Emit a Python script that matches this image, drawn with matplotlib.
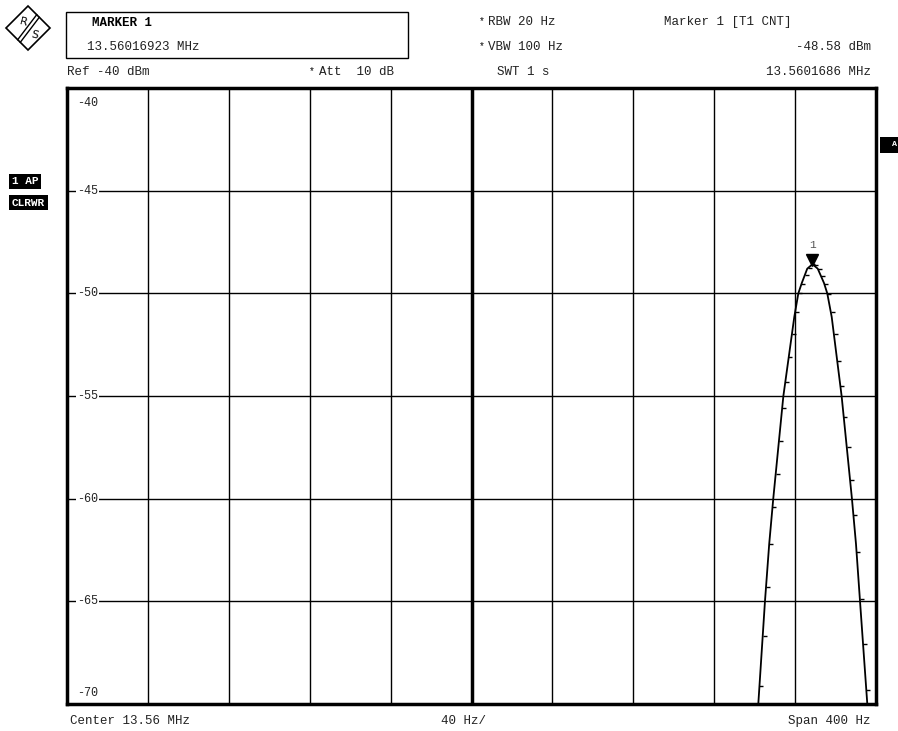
import matplotlib.pyplot as plt
import matplotlib.patches as patches
import numpy as np

# Trace 1 (offset from center 13.56 MHz, Hz) and level (dBm); off-scale parts sit on -70
trace_freq = [-200, 141.8, 145.1, 147.2, 149.2, 154.2, 159.6, 161.6, 163.3, 166.0, 168.6,
              171.2, 174.3, 175.9, 178.1, 183.0, 188.1, 190.1, 192.1, 195.7, 200]
trace_level = [-70, -70, -65, -62.2, -60, -55, -51.15, -50, -49.5, -48.8, -48.58,
               -48.8, -49.5, -50, -51.15, -55, -60, -62.2, -65, -70, -70]

# sampled points of the trace drawn as small ticks
tick_freq = [142.4, 144.0, 145.6, 147.2, 148.8, 150.4, 152.0, 153.6, 155.2, 156.8, 158.4,
             160.0, 161.6, 163.2, 164.8, 166.4, 168.0, 169.6, 171.2, 172.8, 174.4, 176.0,
             177.6, 179.2, 180.8, 182.4, 184.0, 185.6, 187.2, 188.8, 190.4, 192.0, 193.6, 195.2]
tick_level = [-69.1, -66.7, -64.3, -62.2, -60.4, -58.8, -57.2, -55.6, -54.3, -53.1, -52.0,
              -50.9, -50.0, -49.53, -49.11, -48.75, -48.59, -48.62, -48.8, -49.16, -49.53, -50.05,
              -50.9, -52.0, -53.3, -54.5, -56.0, -57.5, -59.1, -60.8, -62.6, -64.9, -67.1, -69.3]

marker_freq = 168.6
marker_level = -48.58

y_levels = [-40, -45, -50, -55, -60, -65, -70]
x_grid = list(range(-200, 201, 40))

W, H = 898, 731
MONO = 'Liberation Mono'
TXT = '#222222'
FS = 9


def fx(x):
    return x / W


def fy(y):
    return 1 - y / H


fig = plt.figure(figsize=(W / 100, H / 100), dpi=100)
ax = fig.add_axes([fx(67), fy(704), 809 / W, 616 / H])

ax.set_xlim(-200, 200)
ax.set_ylim(-70, -40)
ax.set_xticks(x_grid)
ax.set_yticks(y_levels)
ax.grid(True, color='black', linewidth=1.0)
ax.tick_params(length=0, labelbottom=False, labelleft=False)
for s in ax.spines.values():
    s.set_linewidth(2.5)
ax.axvline(0, color='black', linewidth=2.5)

# trace
ax.plot(trace_freq, trace_level, color='black', linewidth=1.3, zorder=4)
ax.plot(np.array(tick_freq) + 0.9, tick_level, linestyle='none', marker='_',
        markersize=3.5, markeredgewidth=1.0, color='black', zorder=4)

# marker 1
ax.plot(marker_freq, marker_level + 0.2, marker='v', markersize=8, color='black',
        zorder=5, clip_on=False)
ax.text(marker_freq, marker_level + 0.95, '1', ha='center', va='center',
        fontsize=8, color='#555555', family=MONO)

# level labels inside the grid
for lv in y_levels:
    if lv == -40:
        y = lv - 0.73
        bb = None
    elif lv == -70:
        y = lv + 0.54
        bb = None
    else:
        y = lv
        bb = dict(facecolor='white', edgecolor='none', pad=0.6)
    ax.text(-195.2, y, str(lv), ha='left', va='center', fontsize=8.5,
            family=MONO, color=TXT, bbox=bb, zorder=3)

# header box
fig.patches.append(patches.Rectangle((fx(65.5), fy(58)), 342 / W, 45.5 / H,
                                     transform=fig.transFigure, fill=False,
                                     edgecolor='black', linewidth=1.0))
fig.text(fx(92), fy(23), 'MARKER 1', fontsize=FS, family=MONO, weight='bold',
         color='black', va='center')
fig.text(fx(87), fy(47), '13.56016923 MHz', fontsize=FS, family=MONO,
         color=TXT, va='center')

fig.text(fx(67), fy(72), 'Ref -40 dBm', fontsize=FS, family=MONO, color=TXT, va='center')
fig.text(fx(309), fy(71), '*', fontsize=7, family=MONO, color='black', va='center')
fig.text(fx(319), fy(72), 'Att  10 dB', fontsize=FS, family=MONO, color=TXT, va='center')

fig.text(fx(479), fy(21), '*', fontsize=7, family=MONO, color='black', va='center')
fig.text(fx(488), fy(22), 'RBW 20 Hz', fontsize=FS, family=MONO, color=TXT, va='center')
fig.text(fx(479), fy(46), '*', fontsize=7, family=MONO, color='black', va='center')
fig.text(fx(488), fy(47), 'VBW 100 Hz', fontsize=FS, family=MONO, color=TXT, va='center')
fig.text(fx(497), fy(72), 'SWT 1 s', fontsize=FS, family=MONO, color=TXT, va='center')

fig.text(fx(664), fy(22), 'Marker 1 [T1 CNT]', fontsize=FS, family=MONO, color=TXT, va='center')
fig.text(fx(871), fy(47), '-48.58 dBm', fontsize=FS, family=MONO, color=TXT,
         va='center', ha='right')
fig.text(fx(871), fy(72), '13.5601686 MHz', fontsize=FS, family=MONO, color=TXT,
         va='center', ha='right')

# footer
fig.text(fx(70), fy(721), 'Center 13.56 MHz', fontsize=FS, family=MONO, color=TXT, va='center')
fig.text(fx(441), fy(721), '40 Hz/', fontsize=FS, family=MONO, color=TXT, va='center')
fig.text(fx(870), fy(721), 'Span 400 Hz', fontsize=FS, family=MONO, color=TXT,
         va='center', ha='right')

# trace labels on the left
fig.text(fx(12), fy(181.5), '1 AP', fontsize=8, family=MONO, weight='bold', color='white',
         va='center', bbox=dict(facecolor='black', edgecolor='none', pad=1.8))
fig.text(fx(12), fy(202.5), 'CLRWR', fontsize=8, family=MONO, weight='bold', color='white',
         va='center', bbox=dict(facecolor='black', edgecolor='none', pad=1.8))

# cut-off label on the right edge
fig.patches.append(patches.Rectangle((fx(880), fy(153)), 20 / W, 16 / H,
                                     transform=fig.transFigure, facecolor='black',
                                     edgecolor='none'))
fig.text(fx(892), fy(145), 'A', fontsize=6, family=MONO, weight='bold', color='white',
         va='center')

# R&S logo
diamond = [(6, 28), (28, 6), (50, 28), (28, 50)]
fig.patches.append(patches.Polygon([(fx(x), fy(y)) for x, y in diamond], closed=True,
                                   transform=fig.transFigure, fill=False,
                                   edgecolor='black', linewidth=1.2))
for d in (-1.3, 1.3):
    fig.lines.append(plt.Line2D([fx(19 + d), fx(38 + d)], [fy(41 + d), fy(16 + d)],
                                transform=fig.transFigure, color='black', linewidth=1.0))
fig.text(fx(23), fy(22), 'R', fontsize=8, family='DejaVu Sans', color='black',
         ha='center', va='center', rotation=-15)
fig.text(fx(34), fy(35), 'S', fontsize=8, family='DejaVu Sans', color='black',
         ha='center', va='center', rotation=-15)

fig.savefig('out.png', dpi=100)
